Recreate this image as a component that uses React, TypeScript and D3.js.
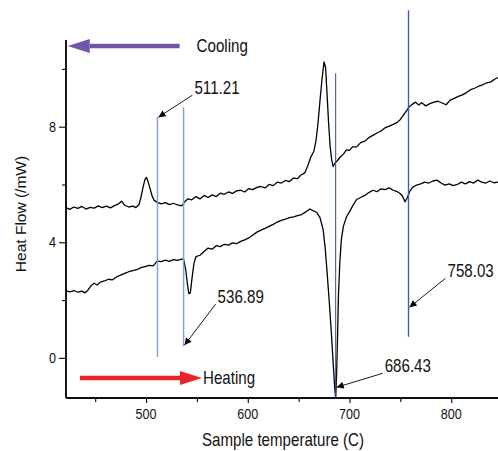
import { useEffect, useRef } from "react";
import * as d3 from "d3";

// cooling run (upper trace): [temperature C, heat flow mW]
const cooling: [number, number][] = [
  [421, 5.2], [425, 5.14], [429, 5.22], [433, 5.17], [437, 5.24], [441, 5.15], [445, 5.21],
  [449, 5.18], [453, 5.26], [457, 5.2], [461, 5.25], [465, 5.19], [469, 5.27], [473, 5.33],
  [476, 5.42], [479, 5.28], [483, 5.22], [487, 5.25], [490, 5.2], [493, 5.3], [495, 5.55],
  [497, 5.9], [499, 6.18], [500.5, 6.24], [502, 6.1], [504, 5.85], [506, 5.6], [508, 5.45],
  [511, 5.38], [515, 5.33], [519, 5.37], [523, 5.3], [527, 5.35], [531, 5.29], [535, 5.26],
  [538, 5.4], [541, 5.5], [545, 5.47], [549, 5.58], [553, 5.5], [557, 5.62], [561, 5.55],
  [565, 5.64], [569, 5.58], [573, 5.7], [577, 5.66], [581, 5.74], [585, 5.69], [589, 5.78],
  [593, 5.8], [597, 5.74], [601, 5.86], [605, 5.82], [609, 5.9], [613, 5.93], [617, 5.88],
  [621, 6.0], [625, 5.96], [629, 6.08], [633, 6.05], [637, 6.14], [641, 6.1], [645, 6.22],
  [649, 6.2], [652, 6.32], [656, 6.4], [659, 6.65], [662, 6.95], [665, 7.15], [667, 7.5],
  [669, 8.1], [671, 8.9], [673, 9.65], [675, 10.24], [676.5, 10.05], [678, 9.1], [679.5, 8.1],
  [681, 7.3], [682.5, 6.85], [684, 6.62], [686, 6.75], [688, 6.82], [691, 6.95], [694, 7.05],
  [697, 7.2], [700, 7.18], [703, 7.3], [707, 7.3], [711, 7.45], [715, 7.5], [719, 7.62],
  [723, 7.7], [727, 7.78], [731, 7.85], [735, 7.96], [739, 8.02], [743, 8.08], [747, 8.15],
  [750, 8.25], [753, 8.4], [756, 8.55], [759, 8.7], [762, 8.78], [765, 8.85], [768, 8.75],
  [771, 8.83], [775, 8.72], [779, 8.8], [783, 8.85], [787, 8.88], [791, 8.82], [795, 8.76],
  [799, 8.92], [803, 8.98], [807, 9.05], [811, 9.1], [815, 9.18], [819, 9.28], [823, 9.33],
  [827, 9.4], [831, 9.45], [835, 9.52], [839, 9.55], [843, 9.65], [846, 9.7],
];

// heating run (lower trace)
const heating: [number, number][] = [
  [421, 2.32], [425, 2.28], [429, 2.33], [433, 2.27], [437, 2.31], [440, 2.25], [443, 2.35],
  [446, 2.5], [449, 2.58], [452, 2.52], [455, 2.62], [459, 2.66], [463, 2.72], [467, 2.7],
  [471, 2.8], [475, 2.86], [479, 2.92], [483, 2.98], [487, 3.02], [491, 3.05], [495, 3.12],
  [499, 3.16], [503, 3.2], [507, 3.18], [511, 3.35], [515, 3.33], [519, 3.38], [523, 3.34],
  [527, 3.4], [531, 3.37], [535, 3.42], [537, 3.4], [539, 3.05], [540.5, 2.6], [542, 2.22],
  [543.5, 2.25], [545, 2.7], [547, 3.25], [549, 3.5], [553, 3.55], [557, 3.68], [561, 3.8],
  [565, 3.76], [569, 3.88], [573, 3.85], [577, 3.93], [581, 3.9], [585, 3.98], [589, 3.95],
  [593, 4.03], [597, 4.08], [601, 4.15], [605, 4.25], [609, 4.35], [613, 4.42], [617, 4.48],
  [621, 4.55], [625, 4.62], [629, 4.7], [633, 4.76], [637, 4.8], [641, 4.85], [645, 4.88],
  [649, 4.92], [653, 4.96], [657, 5.05], [661, 5.15], [665, 5.08], [668, 5.02], [671, 4.85],
  [674, 4.45], [676, 3.85], [678, 2.95], [680, 2.0], [682, 0.95], [684, -0.2], [685.5, -1.05],
  [686.4, -1.38], [687.3, -0.6], [688.2, 0.65], [689.2, 2.2], [690.5, 3.3], [692, 4.1],
  [694, 4.55], [697, 4.88], [700, 5.05], [703, 5.25], [707, 5.48], [711, 5.55], [715, 5.62],
  [719, 5.72], [723, 5.8], [727, 5.75], [731, 5.85], [735, 5.82], [739, 5.88], [743, 5.8],
  [747, 5.75], [750, 5.68], [752, 5.6], [754.5, 5.4], [757, 5.55], [759, 5.75], [762, 5.9],
  [766, 5.98], [770, 6.02], [774, 6.08], [778, 6.05], [782, 6.12], [786, 6.15], [790, 6.05],
  [794, 5.98], [798, 6.02], [802, 5.96], [806, 6.0], [810, 6.08], [814, 6.02], [818, 6.1],
  [822, 6.05], [826, 6.15], [830, 6.08], [834, 6.05], [838, 6.12], [842, 6.06], [846, 6.08],
];

// marker lines: temperature, y from, y to, colour, width
const markers = [
  { t: 511.21, y0: 0.03, y1: 8.33, color: "#8c9ed8", w: 1.5 },
  { t: 536.89, y0: 0.4, y1: 8.67, color: "#8c9ed8", w: 1.5 },
  { t: 686.43, y0: -1.39, y1: 9.85, color: "#2d4aa6", w: 1 },
  { t: 758.03, y0: 0.73, y1: 12.03, color: "#3a5cc0", w: 1.4 },
];

// labelled arrows: tip at (t, v), tail offset in px
const callouts = [
  { label: "511.21", t: 511.21, v: 8.33, dx: 35, dy: -22 },
  { label: "536.89", t: 536.89, v: 0.44, dx: 32, dy: -41 },
  { label: "686.43", t: 686.43, v: -1.02, dx: 47, dy: -14 },
  { label: "758.03", t: 758.03, v: 1.75, dx: 37, dy: -29 },
];

const xMajor = [500, 600, 700, 800];
const xMinor = [450, 550, 650, 750, 850];
const yMajor = [0, 4, 8];
const yMinor = [2, 6, 10];

const W = 498;
const H = 451;
const FONT = "'Liberation Sans', Arial, sans-serif";

export default function App() {
  const ref = useRef<SVGSVGElement>(null);

  useEffect(() => {
    draw();
  }, []);

  function draw() {
    const svg = d3.select(ref.current);
    svg.selectAll("*").remove();

    const left = 66, top = 40, bottom = 398;
    const x = d3.scaleLinear().domain([421.3, 846]).range([left, W]);
    const y = d3.scaleLinear().domain([-1.39, 11]).range([bottom, top]);

    const defs = svg.append("defs");
    defs.append("marker")
      .attr("id", "tip")
      .attr("viewBox", "0 0 10 10")
      .attr("refX", 10).attr("refY", 5)
      .attr("markerWidth", 9).attr("markerHeight", 7)
      .attr("markerUnits", "userSpaceOnUse")
      .attr("orient", "auto")
      .append("path").attr("d", "M0,0L10,5L0,10z").attr("fill", "#000");

    // squeezed text like the original figure
    const txt = (g: any, px: number, py: number, s: string, size: number, anchor = "start") =>
      g.append("text")
        .attr("transform", `translate(${px},${py}) scale(0.84,1)`)
        .attr("text-anchor", anchor)
        .attr("font-family", FONT)
        .attr("font-size", size)
        .attr("fill", "#111")
        .text(s);

    // axes
    const ax = svg.append("g").attr("transform", `translate(0,${bottom})`);
    ax.call(d3.axisBottom(x).tickValues(xMajor).tickSize(5).tickFormat(() => ""));
    ax.append("g").call(d3.axisBottom(x).tickValues(xMinor).tickSize(4).tickFormat(() => ""));
    ax.selectAll(".domain").attr("d", `M${left},0H${W}`);
    xMajor.forEach(v => txt(svg, x(v), 419, String(v), 15, "middle"));

    const ay = svg.append("g").attr("transform", `translate(${left},0)`);
    ay.call(d3.axisLeft(y).tickValues(yMajor).tickSize(7).tickFormat(() => ""));
    ay.append("g").call(d3.axisLeft(y).tickValues(yMinor).tickSize(4).tickFormat(() => ""));
    ay.selectAll(".domain").attr("d", `M0,${top}V${bottom}`);
    yMajor.forEach(v => txt(svg, 56, y(v) + 5, String(v), 15, "end"));

    svg.selectAll(".domain").attr("stroke", "#000").attr("stroke-width", 1.4);
    svg.selectAll(".tick line").attr("stroke", "#000").attr("stroke-width", 1.1);

    txt(svg, 283, 446, "Sample temperature (C)", 18, "middle");
    svg.append("text")
      .attr("transform", `translate(26,214) rotate(-90)`)
      .attr("text-anchor", "middle")
      .attr("font-family", FONT)
      .attr("font-size", 15.5)
      .attr("fill", "#111")
      .text("Heat Flow (/mW)");

    // traces
    const line = d3.line<[number, number]>().x(d => x(d[0])).y(d => y(d[1]));
    [cooling, heating].forEach(d => {
      svg.append("path").datum(d)
        .attr("d", line)
        .attr("fill", "none")
        .attr("stroke", "#000")
        .attr("stroke-width", 1.3)
        .attr("stroke-linejoin", "round");
    });

    // vertical markers
    svg.selectAll(".mk").data(markers).enter().append("line")
      .attr("x1", d => x(d.t)).attr("x2", d => x(d.t))
      .attr("y1", d => y(d.y0)).attr("y2", d => y(d.y1))
      .attr("stroke", d => d.color)
      .attr("stroke-width", d => d.w);

    // callouts
    callouts.forEach(c => {
      const tx = x(c.t), ty = y(c.v);
      svg.append("line")
        .attr("x1", tx + c.dx).attr("y1", ty + c.dy)
        .attr("x2", tx + 1).attr("y2", ty)
        .attr("stroke", "#000").attr("stroke-width", 0.9)
        .attr("marker-end", "url(#tip)");
      txt(svg, tx + c.dx + 2, ty + c.dy - 1, c.label, 18);
    });

    // direction arrows
    const bigArrow = (x0: number, x1: number, yv: number, color: string) => {
      const a = x(x0), b = x(x1), yy = y(yv);
      const dir = Math.sign(b - a);
      const head = 22;
      svg.append("line")
        .attr("x1", a).attr("x2", b - dir * head).attr("y1", yy).attr("y2", yy)
        .attr("stroke", color).attr("stroke-width", 4.5);
      svg.append("path")
        .attr("d", `M${b},${yy}L${b - dir * head},${yy - 7}L${b - dir * head},${yy + 7}Z`)
        .attr("fill", color);
    };
    bigArrow(533, 423, 10.79, "#7254a8");
    txt(svg, x(533) + 17, y(10.79) + 6, "Cooling", 18);
    bigArrow(435, 555, -0.7, "#e8242a");
    txt(svg, x(555) + 1, y(-0.7) + 6, "Heating", 18);
  }

  return (
    <svg
      ref={ref}
      width={W}
      height={H}
      style={{ position: "absolute", left: 0, top: 0, background: "#fff" }}
    />
  );
}
